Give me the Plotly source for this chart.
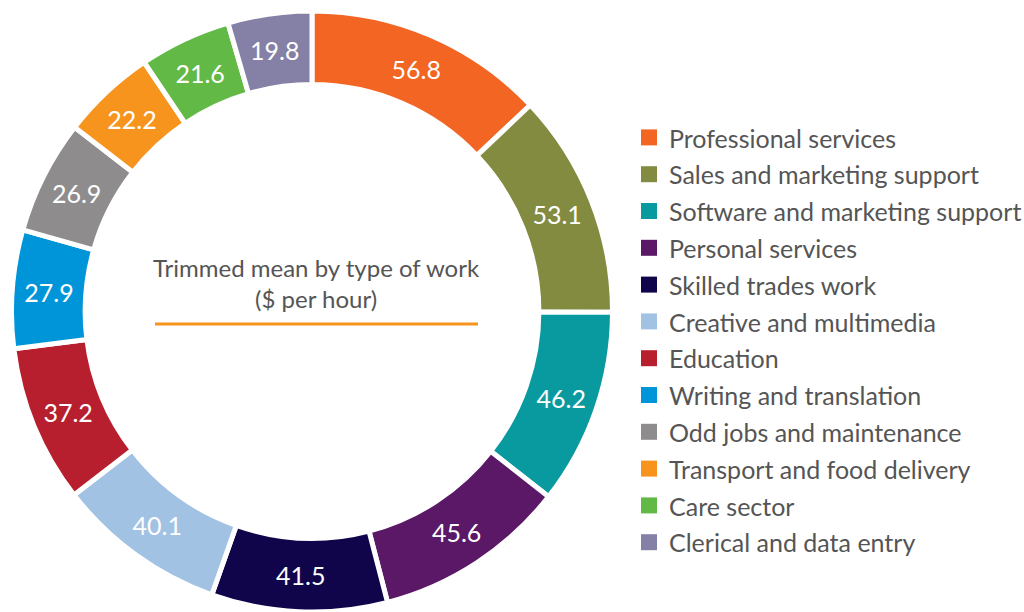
import plotly.graph_objects as go

categories = [
    "Professional services",
    "Sales and marketing support",
    "Software and marketing support",
    "Personal services",
    "Skilled trades work",
    "Creative and multimedia",
    "Education",
    "Writing and translation",
    "Odd jobs and maintenance",
    "Transport and food delivery",
    "Care sector",
    "Clerical and data entry",
]
values = [56.8, 53.1, 46.2, 45.6, 41.5, 40.1, 37.2, 27.9, 26.9, 22.2, 21.6, 19.8]
colors = [
    "#F26522", "#838B41", "#099A9F", "#5A1866", "#10054A", "#A2C2E4",
    "#B71F2E", "#0095D9", "#8E8C8D", "#F7941E", "#62B946", "#8580A6",
]
center_title = "Trimmed mean by type of work<br>($ per hour)"

FONT = "Lato"
legend_labels = ['<span style="font-size:25px">%s</span>' % c for c in categories]

fig = go.Figure(
    go.Pie(
        labels=legend_labels,
        values=values,
        text=["%.1f" % v for v in values],
        textinfo="text",
        hoverinfo="label+value",
        textposition="inside",
        insidetextorientation="horizontal",
        textfont=dict(family=FONT, size=25, color="white"),
        marker=dict(colors=colors, line=dict(color="white", width=5)),
        hole=0.755,
        sort=False,
        direction="clockwise",
        rotation=0,
        domain=dict(x=[11.5 / 1024, 612.5 / 1024], y=[0, 1]),
    )
)

fig.add_annotation(
    x=316 / 1024, y=1 - (283 - 11) / 601, xref="paper", yref="paper",
    xanchor="center", yanchor="middle",
    text=center_title, showarrow=False,
    font=dict(family=FONT, size=24, color="#555555"),
    align="center",
)
fig.add_shape(
    type="line", xref="paper", yref="paper",
    x0=155 / 1024, x1=478 / 1024,
    y0=1 - (324 - 11) / 601, y1=1 - (324 - 11) / 601,
    line=dict(color="#F7941E", width=3),
)

fig.update_layout(
    width=1024, height=612,
    margin=dict(l=0, r=0, t=11, b=0, autoexpand=False),
    paper_bgcolor="white", plot_bgcolor="white",
    showlegend=True,
    legend=dict(
        x=629 / 1024, xanchor="left",
        y=1 - (114 - 11) / 601, yanchor="top",
        font=dict(family=FONT, size=26, color="#555555"),
        bgcolor="rgba(0,0,0,0)",
        traceorder="normal",
    ),
)

post = """
document.documentElement.style.margin='0';
document.body.style.margin='0';
document.body.style.overflow='hidden';
var gd = document.getElementById('{plot_id}');
gd.querySelectorAll('path.legendpie').forEach(function(p){
  p.setAttribute('d','M8,8H-8V-8H8Z');
  p.style.strokeWidth='0px';
});
"""

fig.write_html("out.html", post_script=post, config={"displayModeBar": False})
